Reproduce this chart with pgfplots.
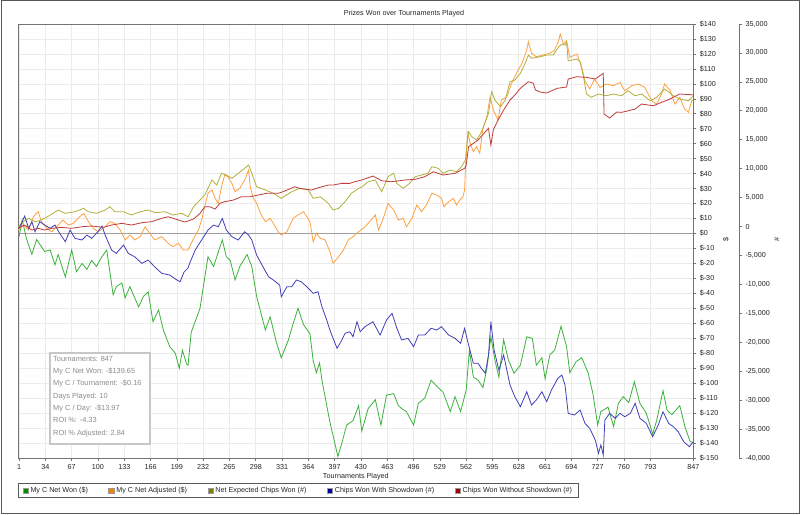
\documentclass[border=0pt]{standalone}
\usepackage{fontspec}
\setmainfont{Liberation Sans}
\usepackage{pgfplots}
\pgfplotsset{compat=1.18}
\definecolor{lgreen}{RGB}{60,178,60}
\definecolor{lorange}{RGB}{255,160,64}
\definecolor{lolive}{RGB}{176,176,60}
\definecolor{lblue}{RGB}{64,64,185}
\definecolor{lred}{RGB}{190,60,60}
\definecolor{dgreen}{RGB}{0,140,0}
\definecolor{dorange}{RGB}{255,128,0}
\definecolor{dolive}{RGB}{128,128,0}
\definecolor{dblue}{RGB}{0,0,160}
\definecolor{dred}{RGB}{160,0,0}

\pgfplotstableread{
t v
1 -2
5 9
10 -3
17 -14
23 -4
33 -12
40 -11
46 -21
50 -14
59 -29
67 -11
73 -25.5
80 -20
86 -24
92 -18
98 -22
105 -15.5
111 -11
119 -41
123 -35.5
130 -33
134 -43
140 -35.5
151 -49
157 -42
163 -39
169 -59
176 -51
182 -64.5
190 -75.6
197 -80
202 -90
206 -78
211 -87
213 -88
217 -66
228 -50
238 -15.5
245 -22
256 -4.3
261 -15.5
266 -18
272 -31
278 -22
287 -14
293 -22
299 -42
310 -64.5
316 -55.6
324 -73
330 -83
339 -71
345 -60
351 -50
358 -61
366 -67
370 -85
374 -93
378 -86.5
381 -98
391 -126
401 -149
406 -140
412 -128
420 -125
427 -115
431 -132
439 -117
448 -111
455 -128
462 -108
471 -107
477 -115
481 -117
487 -119
496 -128
502 -113.5
510 -110
518 -98
525 -102
533 -106
542 -119
548 -109
555 -119
562 -104.6
566 -78
571 -96
577 -98
583 -103
588 -90
593 -69
598 -84.5
603 -96
609 -71
615 -84.5
622 -93.4
630 -88
638 -69
645 -70
650 -88
657 -83
661 -97
667 -81
673 -78
681 -62
688 -75.6
692 -93
700 -85.6
707 -83
715 -93
721 -107
727 -128
731 -119
740 -116
747 -129
753 -113.5
759 -109
766 -113
773 -99
780 -113.5
788 -120
796 -134
801 -125
809 -105
814 -118
820 -121
830 -115
837 -130
843 -139
847 -139.65
}\netwon

\pgfplotstableread{
t v
0 2.3
6 5.7
13 2.3
19 11.2
25 14.6
29 7.9
36 3.5
42 1.2
48 4.5
56 9
63 5.7
69 6.8
75 10.2
82 13.5
88 7.9
94 3.5
100 1.2
109 4.5
115 7.9
121 6.8
128 2.3
134 -4.3
140 -1
146 -4.3
153 -2.1
159 4.5
165 0.1
171 -4.3
180 -2.1
188 -6.5
194 -8.8
201 -6.5
207 -11
213 -11
220 -3.2
226 2.3
230 9
234 17.9
238 26.9
243 29.1
247 23.5
251 20.2
255 31.3
259 39.1
263 38
268 33.5
272 27.9
278 30.2
284 35.7
289 42.4
291 31.3
295 23.5
299 20.2
305 12.4
310 7.9
316 10.2
320 6.8
326 1.2
330 -1
337 1.2
341 5.7
345 10.2
351 12.4
358 14.6
362 11.2
366 7.9
370 -5.5
374 0.1
379 -3.2
385 -4.3
391 -12.2
395 -19.9
402 -15.5
408 -11
414 -4.3
420 -2.1
427 1.2
433 3.5
439 6.8
448 12.4
452 2.3
458 10.2
464 20.2
471 15.7
477 9
483 10.2
487 4.5
494 10.2
500 19
506 14.6
512 19
519 26.9
525 25.7
531 23.5
534 17.9
540 21.2
546 23.5
550 19
554 22.4
558 24.6
560 29.1
561 42.4
564 67
567 60.3
571 54.7
575 58
579 53.6
583 70.3
588 78
592 91.4
596 82.5
602 75.8
606 89.2
613 91.4
619 100.4
625 107
632 113.7
638 122.6
640 128.2
644 120.4
650 118.1
659 119.3
667 120.4
673 122.6
678 128.8
680 133.3
684 126.6
688 128.8
692 117.7
701 119.9
707 111.1
711 102.1
717 96.6
723 103.2
730 97.7
738 99.9
747 98.8
755 101
761 95.4
770 98.8
778 99.9
786 97.7
795 88.7
801 86.5
807 93.2
811 99.9
818 95.4
824 86.5
830 91
836 83.2
841 81
845 88.7
847 89.2
}\netadj

\pgfplotstableread{
t v
0 -30
6 830
13 1420
21 830
29 1120
38 1810
50 2850
59 2280
71 2560
82 3140
88 2560
98 2280
109 2850
115 3420
121 2560
132 2560
142 1990
153 2560
163 2850
172 2380
184 2560
194 1990
205 2280
213 1690
220 3420
228 4580
234 5440
243 8040
249 7170
255 9190
261 8900
268 8330
276 9190
284 10060
289 10630
293 9190
299 6880
310 6310
320 5740
330 4870
343 6010
353 6600
364 6310
370 4870
379 5150
389 4010
395 2850
402 3140
410 4290
418 5740
427 6600
431 6830
439 7740
448 8040
456 6010
464 8610
471 9190
475 7460
483 6600
491 7460
498 8610
506 8900
514 9190
519 10330
527 10060
533 9190
542 9760
550 9470
556 10330
561 11490
563 14380
565 16380
569 15520
575 14950
579 15810
583 16970
590 19560
594 23290
598 21860
605 20700
611 21860
617 25020
623 25310
630 26470
636 28200
640 29630
644 29070
655 29340
663 29630
671 29630
678 31010
682 31540
686 31360
688 31830
690 28650
701 28940
705 28480
709 26060
713 22900
719 22330
728 22900
738 22600
747 22900
757 22600
765 23470
774 22600
782 22900
793 21740
801 22330
811 23760
822 22600
830 22030
841 21740
847 22600
}\netexp

\pgfplotstableread{
t v
1 -310
8 1810
13 -310
17 830
21 -900
27 830
33 260
40 -310
46 260
52 -1180
59 -2630
65 -600
71 -2040
80 -2330
86 -1470
92 -2040
100 -900
105 90
109 -1470
117 -4060
123 -4630
132 -3200
138 -4630
146 -5220
155 -6360
163 -5790
171 -6950
180 -8090
190 -8380
199 -9240
203 -9540
208 -7860
213 -7170
215 -6360
222 -4060
230 -2330
238 -600
245 260
251 -30
256 1420
261 -600
268 -1760
276 -2330
284 -900
289 -1470
293 -2330
299 -4920
307 -6950
314 -8670
320 -9240
328 -10110
330 -12130
337 -10400
343 -10400
349 -9240
355 -9540
362 -10400
370 -11540
376 -11270
381 -13860
387 -16160
391 -17880
395 -19320
400 -21050
406 -19610
410 -18450
416 -18180
420 -19040
425 -16450
429 -18180
435 -17310
445 -16450
454 -18750
462 -16160
469 -15000
475 -17590
481 -19610
489 -19320
496 -20770
502 -18750
510 -18750
518 -17590
525 -17880
531 -17310
540 -18750
548 -19320
555 -20180
560 -17590
564 -19900
571 -23640
577 -23640
581 -24500
586 -25370
590 -22200
593 -16450
597 -21340
603 -24800
609 -22200
617 -27390
623 -29410
630 -31140
638 -28550
644 -30850
650 -29980
657 -28550
663 -30270
669 -28250
677 -26230
682 -25660
686 -27390
690 -32280
698 -32570
705 -31710
711 -34010
717 -34870
724 -36900
728 -39190
731 -37760
734 -39480
736 -33440
742 -32280
749 -33140
755 -32280
761 -32870
768 -32280
774 -30550
780 -33140
788 -34010
796 -36320
803 -34300
809 -32000
816 -34010
822 -34590
828 -35460
835 -37190
842 -38050
847 -37190
}\withsd

\pgfplotstableread{
t v
0 -310
8 260
17 -600
25 -310
33 -600
42 -310
54 -140
67 -310
80 -30
92 90
107 -140
117 260
130 550
142 260
155 660
167 830
180 1420
188 1690
201 1120
209 780
220 1300
228 2280
234 3420
240 3420
247 3020
253 4010
259 4290
270 4580
280 5150
291 5150
301 5440
312 5740
326 5740
332 6010
347 6880
353 6600
368 6310
374 6600
389 7170
395 7170
406 7460
416 7460
422 7740
431 8040
437 8330
445 8730
456 7910
468 7740
485 8040
498 8160
510 8610
521 9470
533 8900
548 9190
560 10060
562 10630
565 13790
577 14950
586 16380
590 16970
593 14080
596 16680
602 18400
609 20130
617 21860
623 22720
630 23880
640 25020
646 24800
649 23590
655 23240
663 23070
676 23880
688 24110
690 25490
701 25890
713 25780
724 25490
734 26470
735 19440
742 18750
751 19790
757 19730
774 20300
782 21170
797 20870
807 21460
815 21860
830 22900
845 22770
847 22720
}\withoutsd

\begin{document}
\begin{tikzpicture}[font=\fontsize{7.2}{8.6}\selectfont]
\useasboundingbox (0,0) rectangle (800pt,514pt);
\fill[white] (0,0) rectangle (800pt,514pt);
\draw[black!65, line width=1pt] (1pt,1pt) rectangle (799pt,513pt);
\node[text=black!85] at (404pt,500pt) {Prizes Won over Tournaments Played};

\begin{axis}[
  at={(18.3pt,56pt)}, anchor=south west,
  scale only axis, width=675pt, height=434pt,
  xmin=0, xmax=847, ymin=-150, ymax=140,
  xtick={1,34,67,100,133,166,199,232,265,298,331,364,397,430,463,496,529,562,595,628,661,694,727,760,793,847},
  ytick={-150,-140,...,140},
  xtick pos=left, ytick pos=right,
  xticklabel pos=left, yticklabel pos=right,
  tick align=outside, major tick length=3pt,
  grid=major, grid style={draw=black!8, line width=0.6pt},
  axis line style={draw=black!55, line width=0.9pt},
  tick style={draw=black!55, line width=0.6pt},
  /pgf/number format/assume math mode=true,
  yticklabel={\$\pgfmathprintnumber[fixed,precision=0]{\tick}},
  ticklabel style={text=black!85},
  xlabel={Tournaments Played},
  xlabel style={at={(axis description cs:0.5,-0.0438)}, anchor=center, text=black!85},
  legend columns=5,
  legend cell align=left,
  legend style={at={(axis description cs:0,-0.0583)}, anchor=north west,
    draw=black!65, line width=0.8pt, fill=white, text=black!85,
    inner xsep=4pt, inner ysep=2.5pt,
    nodes={inner xsep=2pt, inner ysep=1pt},
    /tikz/every even column/.append style={column sep=18.5pt}},
]
\draw[black!38, line width=1.8pt] (axis cs:0,0) -- (axis cs:847,0);
\addplot[lgreen, line width=0.8pt,
  legend image code/.code={\draw[draw=black!40,fill=dgreen,line width=0.4pt] (0pt,-2.7pt) rectangle (5.4pt,2.7pt);}]
  table[x=t,y=v] {\netwon};
\addlegendentry{My C Net Won (\$)}
\addplot[lorange, line width=0.8pt,
  legend image code/.code={\draw[draw=black!40,fill=dorange,line width=0.4pt] (0pt,-2.7pt) rectangle (5.4pt,2.7pt);}]
  table[x=t,y=v] {\netadj};
\addlegendentry{My C Net Adjusted (\$)}
\addlegendimage{legend image code/.code={\draw[draw=black!40,fill=dolive,line width=0.4pt] (0pt,-2.7pt) rectangle (5.4pt,2.7pt);}}
\addlegendentry{Net Expected Chips Won (\#)}
\addlegendimage{legend image code/.code={\draw[draw=black!40,fill=dblue,line width=0.4pt] (0pt,-2.7pt) rectangle (5.4pt,2.7pt);}}
\addlegendentry{Chips Won With Showdown (\#)}
\addlegendimage{legend image code/.code={\draw[draw=black!40,fill=dred,line width=0.4pt] (0pt,-2.7pt) rectangle (5.4pt,2.7pt);}}
\addlegendentry{Chips Won Without Showdown (\#)}
\end{axis}

\begin{axis}[
  at={(18.3pt,56pt)}, anchor=south west,
  scale only axis, width=675pt, height=434pt,
  xmin=0, xmax=847, ymin=-40000, ymax=35000,
  hide axis,
]
\addplot[lolive, line width=0.8pt] table[x=t,y=v] {\netexp};
\addplot[lblue, line width=0.8pt] table[x=t,y=v] {\withsd};
\addplot[lred, line width=0.8pt] table[x=t,y=v] {\withoutsd};
\end{axis}

\begin{axis}[
  at={(739pt,56pt)}, anchor=south east,
  scale only axis, width=10pt, height=434pt,
  xmin=0, xmax=1, ymin=-40000, ymax=35000,
  hide x axis, axis y line*=right,
  ytick={-40000,-35000,...,35000},
  scaled y ticks=false,
  tick align=outside, major tick length=3pt,
  axis line style={draw=black!55, line width=0.9pt},
  tick style={draw=black!55, line width=0.6pt},
  /pgf/number format/assume math mode=true,
  yticklabel style={/pgf/number format/1000 sep={,}, text=black!85},
]
\addplot[draw=none] coordinates {(0,0)};
\end{axis}

\node[rotate=90, text=black!85] at (726pt,274pt) {\$};
\node[rotate=90, text=black!85] at (777pt,274pt) {\#};

\draw[black!22, line width=1.2pt, fill=white] (50pt,70pt) rectangle (150pt,161pt);
\node[anchor=north west, align=left, text=black!45, inner sep=0pt,
  font=\fontsize{7.4}{12.3}\selectfont] at (53pt,158pt) {Tournaments: 847\\
My C Net Won: -\$139.65\\
My C / Tournament: -\$0.16\\
Days Played: 10\\
My C / Day: -\$13.97\\
ROI \%: -4.33\\
ROI \% Adjusted: 2.84};
\end{tikzpicture}
\end{document}
